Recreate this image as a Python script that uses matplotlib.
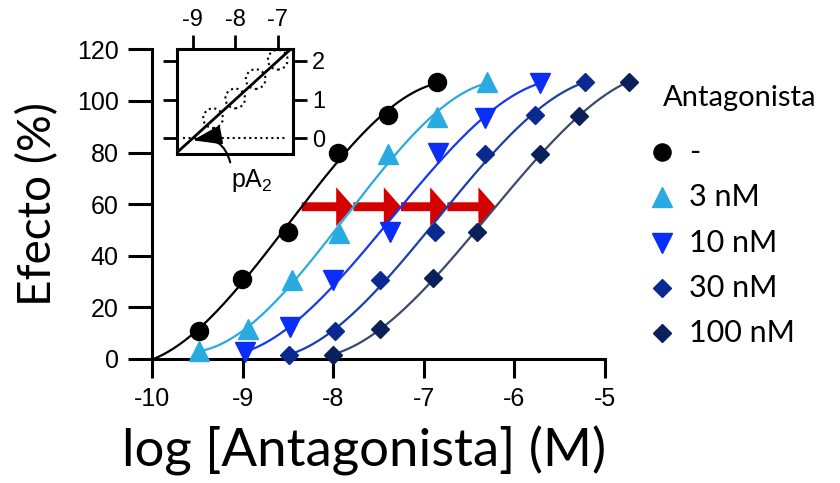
import numpy as np
import matplotlib
matplotlib.use('Agg')
import matplotlib.pyplot as plt
from matplotlib.lines import Line2D

plt.rcParams['font.family'] = 'Liberation Sans'
plt.rcParams['axes.unicode_minus'] = False
plt.rcParams['mathtext.fontset'] = 'custom'
plt.rcParams['mathtext.rm'] = 'Liberation Sans'

# === datos ===
x_control = [-9.48, -9.01, -8.50, -7.95, -7.39, -6.85]
y_control = [11.0, 31.1, 49.2, 79.8, 94.5, 107.4]
x_3nm = [-9.48, -8.94, -8.46, -7.94, -7.39, -6.85, -6.30]
y_3nm = [3.2, 11.7, 30.8, 48.7, 79.4, 93.8, 107.4]
x_10nm = [-8.97, -8.48, -8.00, -7.37, -6.84, -6.32, -5.72]
y_10nm = [2.6, 12.3, 30.8, 49.2, 79.7, 93.2, 106.8]
x_30nm = [-8.49, -7.98, -7.48, -6.88, -6.32, -5.77, -5.22]
y_30nm = [1.7, 11.0, 30.6, 49.2, 79.6, 94.5, 107.4]
x_100nm = [-8.00, -7.48, -6.90, -6.41, -5.72, -5.29, -4.74]
y_100nm = [1.7, 11.7, 31.3, 49.2, 79.6, 94.1, 107.4]

labels = ['-', '3 nM', '10 nM', '30 nM', '100 nM']
# punto donde empieza la curva ajustada (solo el control empieza antes)
curve_start = [(-10.0, 0.0), None, None, None, None]
arrow_level = 59

# Schild (inset)
schild_log_b = [-8.52, -8.0, -7.52, -7.0]
schild_log_dr = [0.52, 1.03, 1.53, 2.03]
pA2 = 9.0

series_x = [x_control, x_3nm, x_10nm, x_30nm, x_100nm]
series_y = [y_control, y_3nm, y_10nm, y_30nm, y_100nm]

marker_colors = ['black', '#29ABE2', '#0A2EF5', '#0B2A8F', '#0B1F5A']
line_colors = ['black', '#29ABE2', '#1538F0', '#1A3FA8', '#3B4A6B']
markers = ['o', '^', 'v', 'D', 'D']
msizes = [13, 14.5, 14.5, 9.5, 9.5]
RED = '#D40000'


def fit_curve(xs, ys, n=300):
    # ajuste cúbico por mínimos cuadrados, dibujado entre el primer y el último punto
    coef = np.polyfit(xs, ys, 3)
    xx = np.linspace(min(xs), max(xs), n)
    return xx, np.clip(np.polyval(coef, xx), 0, None)


W, H = 840, 483
fig = plt.figure(figsize=(W / 100, H / 100), dpi=100)
ax = fig.add_axes([152 / W, 1 - 359 / H, (605 - 152) / W, (359 - 49.3) / H])
ax.set_xlim(-10, -5)
ax.set_ylim(0, 120)
for s in ['top', 'right']:
    ax.spines[s].set_visible(False)
for s in ['left', 'bottom']:
    ax.spines[s].set_linewidth(2.2)
ax.set_xticks([-10, -9, -8, -7, -6, -5])
ax.set_yticks([0, 20, 40, 60, 80, 100, 120])
ax.tick_params(axis='y', length=17, width=2.2, pad=7, labelsize=18)
ax.tick_params(axis='x', length=14, width=2.2, pad=6, labelsize=18)

crossings = []
for i in range(5):
    xs, ys = list(series_x[i]), list(series_y[i])
    if curve_start[i] is not None:
        xs = [curve_start[i][0]] + xs
        ys = [curve_start[i][1]] + ys
    xx, yy = fit_curve(xs, ys)
    ax.plot(xx, yy, color=line_colors[i], lw=1.6, zorder=3, clip_on=False)
    ax.plot(series_x[i], series_y[i], linestyle='none', marker=markers[i],
            ms=msizes[i], color=marker_colors[i], mec=marker_colors[i],
            zorder=4, clip_on=False)
    crossings.append(np.interp(arrow_level, yy, xx))

# flechas rojas de desplazamiento
for i in range(4):
    ax.annotate('', xy=(crossings[i + 1], arrow_level), xytext=(crossings[i], arrow_level),
                arrowprops=dict(arrowstyle='simple,head_length=0.62,head_width=1.4,tail_width=0.32',
                                fc=RED, ec='none', shrinkA=0, shrinkB=0, mutation_scale=20),
                zorder=2)

# leyenda manual
fig.text(663 / W, 1 - 98 / H, 'Antagonista', family='Lato', fontsize=21, ha='left', va='center')
for i in range(5):
    yp = 1 - (152 + i * 45.3) / H
    fig.add_artist(Line2D([662 / W], [yp], transform=fig.transFigure, linestyle='none',
                          marker=markers[i], ms=msizes[i] * 0.95, color=marker_colors[i]))
    fig.text(689 / W, yp, labels[i], family='Lato', fontsize=22, ha='left', va='center')

# etiquetas de ejes
fig.text(364 / W, 1 - 467 / H, 'log [Antagonista] (M)', family='Lato', fontsize=38,
         ha='center', va='baseline')
fig.text(38 / W, 1 - 203.5 / H, 'Efecto (%)', family='Lato', fontsize=33, rotation=90,
         ha='center', va='center')

# inset: gráfico de Schild
ax_in = fig.add_axes([177.3 / W, 1 - 154 / H, 115.4 / W, 104.7 / H])
ax_in.set_xlim(-9.36, -6.65)
ax_in.set_ylim(-0.405, 2.30)
for s in ax_in.spines.values():
    s.set_linewidth(2.2)
ax_in.set_xticks([-9, -8, -7])
ax_in.set_yticks([0, 1, 2])
ax_in.tick_params(axis='x', top=True, bottom=False, labeltop=True, labelbottom=False,
                  length=10, width=2, pad=3, labelsize=17)
ax_in.tick_params(axis='y', left=True, right=True, labelleft=False, labelright=True,
                  length=10, width=2, pad=4, labelsize=17)
lx = np.array(ax_in.get_xlim())
ax_in.plot(lx, lx + pA2, color='black', lw=2)
ax_in.axhline(0, xmin=0.05, xmax=0.95, color='black', ls=':', lw=1.5)
ax_in.scatter(schild_log_b, schild_log_dr, s=200, facecolors='none', edgecolors='black',
              linestyles=':', linewidths=1.5, zorder=3)
ax_in.annotate('pA$_2$', xy=(-pA2, -0.05), xytext=(252, H - 180), textcoords='figure pixels',
               fontsize=18, ha='center', va='center', annotation_clip=False,
               arrowprops=dict(arrowstyle='-|>,head_length=1.2,head_width=0.4',
                               connectionstyle='arc3,rad=0.5', color='black', lw=1.5,
                               shrinkA=1, shrinkB=0, mutation_scale=15, relpos=(0.0, 1.0)))

fig.savefig('out.png', dpi=100)
